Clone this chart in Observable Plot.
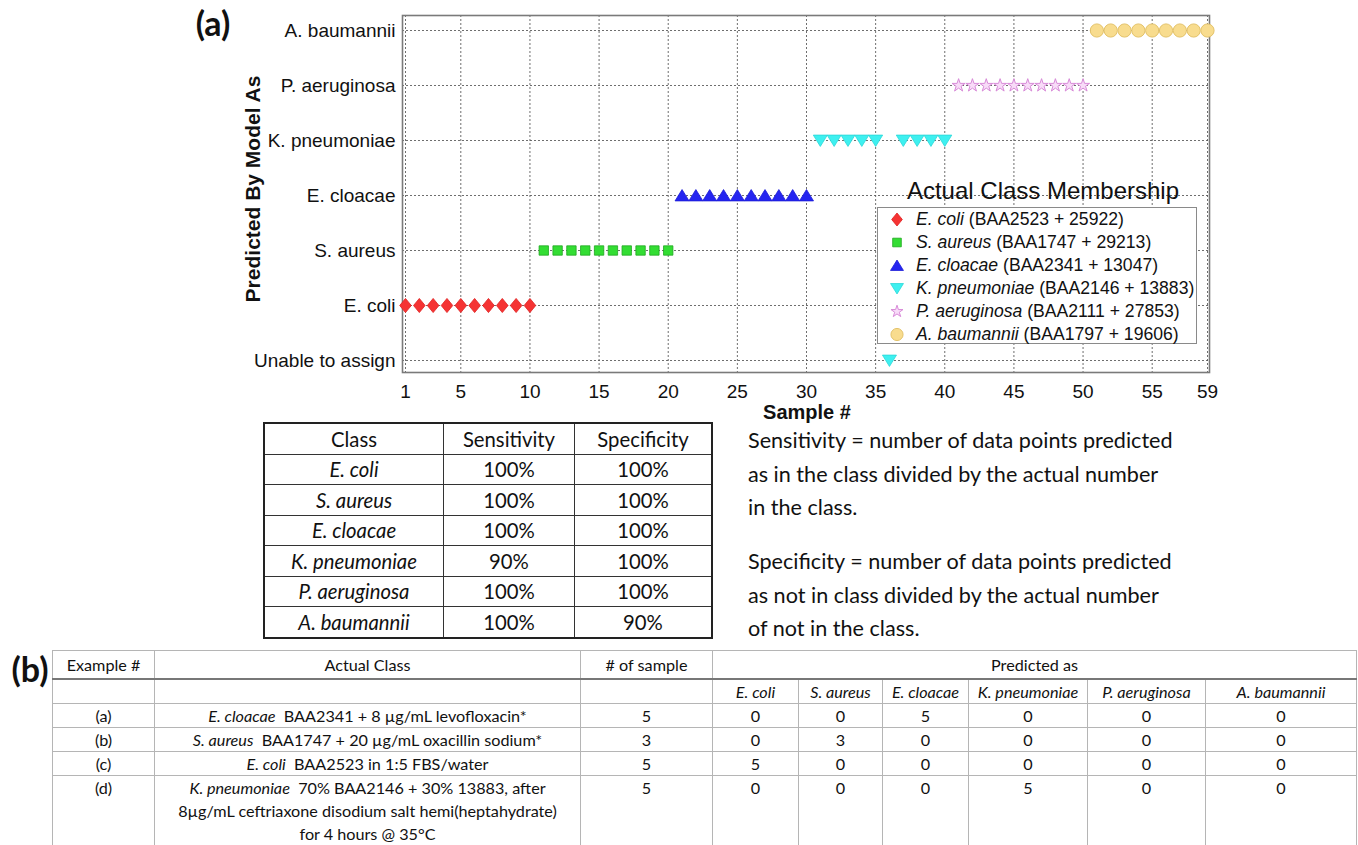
<!DOCTYPE html>
<html><head><meta charset="utf-8">
<script src="https://cdn.jsdelivr.net/npm/d3@7"></script>
<script src="https://cdn.jsdelivr.net/npm/@observablehq/plot@0.6"></script>
<style>
html,body{margin:0;padding:0;background:#fff;}
#page{position:relative;width:1358px;height:845px;overflow:hidden;background:#fff;font-family:"Liberation Sans",Arial,sans-serif;color:#111;}
.abs{position:absolute;white-space:nowrap;}
#chart{position:absolute;left:0;top:0;}
.legend{position:absolute;left:877px;top:207px;width:318px;height:135px;border:1px solid #8a8a8a;background:#fff;font-size:17.6px;}
.legrow{position:absolute;left:0;height:23px;line-height:23px;white-space:nowrap;}
.legrow svg{position:absolute;left:8px;top:0;}
.legrow span{position:absolute;left:38px;top:0;}
table{position:absolute;border-collapse:collapse;font-family:Lato,"Open Sans",sans-serif;color:#111;}
.t1{left:263px;top:422px;width:450px;font-size:20.3px;border:2px solid #222;}
.t1 td{border:1px solid #333;height:29.5px;padding:0;text-align:center;}
.t2{left:52px;top:650px;width:1304px;font-size:16.2px;border:1px solid #aaa;table-layout:fixed;}
.t2 td{border:1px solid #b5b5b5;padding:0;text-align:center;height:23px;line-height:23px;vertical-align:top;}
.t2 tr.hd td{height:27px;line-height:27px;border-bottom:2px solid #777;}
.t2 tr.last td{height:71px;}
i{font-style:italic;}
.note{position:absolute;left:748px;font-family:Lato,"Open Sans",sans-serif;font-size:21.6px;line-height:33.5px;color:#111;white-space:nowrap;}
</style></head><body><div id="page"></div>
<script>
// ---------- data ----------
const sampleNo = [1,2,3,4,5,6,7,8,9,10,11,12,13,14,15,16,17,18,19,20,21,22,23,24,25,26,27,28,29,30,31,32,33,34,35,36,37,38,39,40,41,42,43,44,45,46,47,48,49,50,51,52,53,54,55,56,57,58,59];
const actualClass = [
 "E. coli","E. coli","E. coli","E. coli","E. coli","E. coli","E. coli","E. coli","E. coli","E. coli",
 "S. aureus","S. aureus","S. aureus","S. aureus","S. aureus","S. aureus","S. aureus","S. aureus","S. aureus","S. aureus",
 "E. cloacae","E. cloacae","E. cloacae","E. cloacae","E. cloacae","E. cloacae","E. cloacae","E. cloacae","E. cloacae","E. cloacae",
 "K. pneumoniae","K. pneumoniae","K. pneumoniae","K. pneumoniae","K. pneumoniae","K. pneumoniae","K. pneumoniae","K. pneumoniae","K. pneumoniae","K. pneumoniae",
 "P. aeruginosa","P. aeruginosa","P. aeruginosa","P. aeruginosa","P. aeruginosa","P. aeruginosa","P. aeruginosa","P. aeruginosa","P. aeruginosa","P. aeruginosa",
 "A. baumannii","A. baumannii","A. baumannii","A. baumannii","A. baumannii","A. baumannii","A. baumannii","A. baumannii","A. baumannii"];
const predictedAs = [
 "E. coli","E. coli","E. coli","E. coli","E. coli","E. coli","E. coli","E. coli","E. coli","E. coli",
 "S. aureus","S. aureus","S. aureus","S. aureus","S. aureus","S. aureus","S. aureus","S. aureus","S. aureus","S. aureus",
 "E. cloacae","E. cloacae","E. cloacae","E. cloacae","E. cloacae","E. cloacae","E. cloacae","E. cloacae","E. cloacae","E. cloacae",
 "K. pneumoniae","K. pneumoniae","K. pneumoniae","K. pneumoniae","K. pneumoniae","Unable to assign","K. pneumoniae","K. pneumoniae","K. pneumoniae","K. pneumoniae",
 "P. aeruginosa","P. aeruginosa","P. aeruginosa","P. aeruginosa","P. aeruginosa","P. aeruginosa","P. aeruginosa","P. aeruginosa","P. aeruginosa","P. aeruginosa",
 "A. baumannii","A. baumannii","A. baumannii","A. baumannii","A. baumannii","A. baumannii","A. baumannii","A. baumannii","A. baumannii"];
const yCategories = ["A. baumannii","P. aeruginosa","K. pneumoniae","E. cloacae","S. aureus","E. coli","Unable to assign"];
const xTicks = [1,5,10,15,20,25,30,35,40,45,50,55,59];
const classNames = ["E. coli","S. aureus","E. cloacae","K. pneumoniae","P. aeruginosa","A. baumannii"];
const strains = ["(BAA2523 + 25922)","(BAA1747 + 29213)","(BAA2341 + 13047)","(BAA2146 + 13883)","(BAA2111 + 27853)","(BAA1797 + 19606)"];
const sensitivity = ["100%","100%","100%","90%","100%","100%"];
const specificity = ["100%","100%","100%","100%","100%","90%"];
const exampleIds = ["(a)","(b)","(c)","(d)"];
const exampleClass = ["E. cloacae","S. aureus","E. coli","K. pneumoniae"];
const exampleDesc = ["BAA2341 + 8 µg/mL levofloxacin*","BAA1747 + 20 µg/mL oxacillin sodium*","BAA2523 in 1:5 FBS/water","70% BAA2146 + 30% 13883, after<br>8µg/mL ceftriaxone disodium salt hemi(heptahydrate)<br>for 4 hours @ 35°C"];
const exampleN = [5,3,5,5];
const exampleCounts = [[0,0,5,0,0,0],[0,3,0,0,0,0],[5,0,0,0,0,0],[0,0,0,5,0,0]];

// ---------- symbols / styles ----------
const rOf = s => Math.sqrt(s/Math.PI);
const diamond = {draw(c,s){const r=rOf(s);c.moveTo(0,-r*1.22);c.lineTo(r*1.0,0);c.lineTo(0,r*1.22);c.lineTo(-r*1.0,0);c.closePath();}};
const triUp = {draw(c,s){const r=rOf(s);c.moveTo(0,-r*1.1);c.lineTo(r*1.3,r*1.0);c.lineTo(-r*1.3,r*1.0);c.closePath();}};
const triDown = {draw(c,s){const r=rOf(s);c.moveTo(0,r*1.1);c.lineTo(r*1.3,-r*1.0);c.lineTo(-r*1.3,-r*1.0);c.closePath();}};
const styles = [
 {symbol:diamond, r:5.8, fill:"#f53333", stroke:"#e02020", strokeWidth:0.8},
 {symbol:"square", r:5.3, fill:"#33dd33", stroke:"#1fa81f", strokeWidth:0.8},
 {symbol:triUp, r:5.4, fill:"#2525f0", stroke:"#1a1ad8", strokeWidth:0.8},
 {symbol:triDown, r:5.4, fill:"#3ef0f0", stroke:"#2ad8d8", strokeWidth:0.8},
 {symbol:"star", r:4.1, fill:"#f8dcf8", stroke:"#d88ad8", strokeWidth:1},
 {symbol:"circle", r:6.6, fill:"#f8dc8e", stroke:"#e4c36a", strokeWidth:1}
];

const rows = sampleNo.map((s,i)=>({sample:s, actual:actualClass[i], predicted:predictedAs[i]}));

const page = document.getElementById("page");

const chart = Plot.plot({
  width:1358, height:420,
  marginLeft:402, marginRight:149, marginTop:15, marginBottom:48,
  style:{fontFamily:"'Liberation Sans', Arial, sans-serif", fontSize:"19px", color:"#111", background:"transparent", overflow:"visible"},
  x:{domain:[1,59], insetLeft:3, insetRight:2, label:null},
  y:{type:"point", domain:yCategories, padding:0, insetTop:15, insetBottom:12, label:null},
  marks:[
    Plot.gridX(xTicks, {stroke:"#555", strokeOpacity:0.85, strokeDasharray:"2,2"}),
    Plot.gridY(yCategories, {stroke:"#555", strokeOpacity:0.85, strokeDasharray:"2,2"}),
    Plot.frame({stroke:"#7a7a7a", strokeWidth:1.6}),
    Plot.axisX(xTicks, {tickSize:0, tickPadding:12, fontSize:19, label:null}),
    Plot.axisY(yCategories, {tickSize:0, tickPadding:7, fontSize:19, label:null}),
    ...classNames.map((cls,i)=>Plot.dot(rows.filter(d=>d.actual===cls), {x:"sample", y:"predicted", ...styles[i]}))
  ]
});
chart.id = "chart";
page.appendChild(chart);

function addDiv(html, css, cls="abs"){const d=document.createElement("div");d.className=cls;d.innerHTML=html;Object.assign(d.style,css);page.appendChild(d);return d;}

addDiv("(a)",{left:"213px",top:"22px",transform:"translate(-50%,-50%)",fontFamily:"Lato, sans-serif",fontWeight:"700",fontSize:"34px"});
addDiv("(b)",{left:"30px",top:"668px",transform:"translate(-50%,-50%)",fontFamily:"Lato, sans-serif",fontWeight:"700",fontSize:"34px"});
addDiv("Predicted By Model As",{left:"253px",top:"189px",transform:"translate(-50%,-50%) rotate(-90deg)",fontWeight:"700",fontSize:"21px"});
addDiv("Sample #",{left:"807px",top:"412px",transform:"translate(-50%,-50%)",fontWeight:"700",fontSize:"20px"});
addDiv("Actual Class Membership",{left:"1043px",top:"191px",transform:"translate(-50%,-50%)",fontSize:"24px"});

// legend
const leg = document.createElement("div"); leg.className="legend"; page.appendChild(leg);
classNames.forEach((cls,i)=>{
  const row=document.createElement("div"); row.className="legrow"; row.style.top=(i*23)+"px";
  const st=styles[i];
  const sym = typeof st.symbol==="string" ? {circle:d3.symbolCircle,square:d3.symbolSquare,star:d3.symbolStar}[st.symbol] : st.symbol;
  const lr = st.r*0.92;
  const p = d3.symbol(sym, lr*lr*Math.PI)();
  row.innerHTML=`<svg width="24" height="23"><path transform="translate(11,11.5)" d="${p}" fill="${st.fill}" stroke="${st.stroke}" stroke-width="${st.strokeWidth}"/></svg><span><i>${cls}</i> ${strains[i]}</span>`;
  leg.appendChild(row);
});

// table 1
let t1 = `<table class="t1"><tr><td style="width:178px">Class</td><td style="width:130px">Sensitivity</td><td>Specificity</td></tr>`;
classNames.forEach((c,i)=>{t1+=`<tr><td><i>${c}</i></td><td>${sensitivity[i]}</td><td>${specificity[i]}</td></tr>`;});
t1+=`</table>`;
page.insertAdjacentHTML("beforeend", t1);

// notes
addDiv("Sensitivity = number of data points predicted<br>as in the class divided by the actual number<br>in the class.",{top:"424px"},"note");
addDiv("Specificity = number of data points predicted<br>as not in class divided by the actual number<br>of not in the class.",{top:"545px"},"note");

// table 2
const colW=[102,426,132,86,84,86,119,118,151];
let t2=`<table class="t2"><colgroup>${colW.map(w=>`<col style="width:${w}px">`).join("")}</colgroup>`;
t2+=`<tr class="hd"><td>Example #</td><td>Actual Class</td><td># of sample</td><td colspan="6">Predicted as</td></tr>`;
t2+=`<tr><td></td><td></td><td></td>${classNames.map(c=>`<td><i>${c}</i></td>`).join("")}</tr>`;
exampleIds.forEach((id,i)=>{
  t2+=`<tr${i===3?' class="last"':''}><td>${id}</td><td><i>${exampleClass[i]}</i>&nbsp; ${exampleDesc[i]}</td><td>${exampleN[i]}</td>${exampleCounts[i].map(v=>`<td>${v}</td>`).join("")}</tr>`;
});
t2+=`</table>`;
page.insertAdjacentHTML("beforeend", t2);
</script></body></html>
